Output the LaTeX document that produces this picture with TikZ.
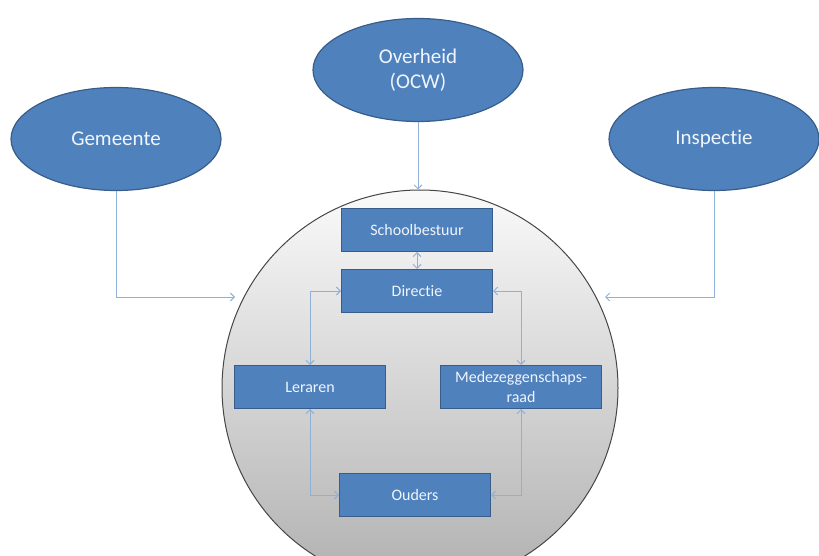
\documentclass[tikz,border=0pt]{standalone}
\usepackage{fontspec}
\setmainfont[Ligatures=NoCommon]{Carlito}
\usetikzlibrary{arrows.meta,shapes.geometric}

\definecolor{boxblue}{HTML}{4F81BD}
\definecolor{boxedge}{HTML}{385D8A}
\definecolor{linkblue}{HTML}{90B0D8}
\definecolor{boxtext}{HTML}{F0F5FC}

\tikzset{
	party/.style = {ellipse, draw=boxedge, line width=1.2pt, fill=boxblue, text=boxtext,
		minimum width=210pt, minimum height=103pt, inner sep=0pt, align=center,
		font=\fontsize{21}{25}\selectfont},
	organ/.style = {rectangle, draw=boxedge, line width=1pt, fill=boxblue, text=boxtext,
		minimum width=151pt, minimum height=43pt, inner sep=0pt, align=center,
		font=\fontsize{16}{20}\selectfont},
	link/.style = {draw=linkblue, line width=0.9pt, >={Straight Barb[length=4pt,width=8pt]}}
}

\begin{document}
\begin{tikzpicture}[x=1pt,y=-1pt]
	\clip (0,0) rectangle (819,556);
	% the school as a whole
	\node[circle, minimum size=396pt, draw=gray!55!black, line width=1pt,
		top color=gray!4, bottom color=gray!62] (school) at (420,388) {};
	% outside parties
		\node[party] (gem)  at (116,139) {Gemeente};
		\node[party] (ocw)  at (418,70)  {Overheid\\(OCW)};
		\node[party] (insp) at (714,139) {Inspectie};
	% inside the school
		\node[organ] (sb)  at (417,230) {Schoolbestuur};
		\node[organ] (dir) at (417,291) {Directie};
		\node[organ] (ler) at (310,387) {Leraren};
		\node[organ, minimum width=161pt] (mzr) at (521,387) {Medezeggenschaps-\\raad};
		\node[organ] (oud) at (415,495) {Ouders};
	\coordinate (gemin)  at (235,297);
	\coordinate (inspin) at (605,297);
		\draw[link,->] (gem) |- (gemin);
		\draw[link,->] (insp) |- (inspin);
		\draw[link,->] (ocw) -- (ocw |- school.north);
		\draw[link,<->] (sb) -- (dir);
		\draw[link,<->] (dir) -| (ler);
		\draw[link,<->] (dir) -| (mzr);
		\draw[link,<->] (ler) |- (oud);
		\draw[link,<->] (mzr) |- (oud);
	\end{tikzpicture}
\end{document}
